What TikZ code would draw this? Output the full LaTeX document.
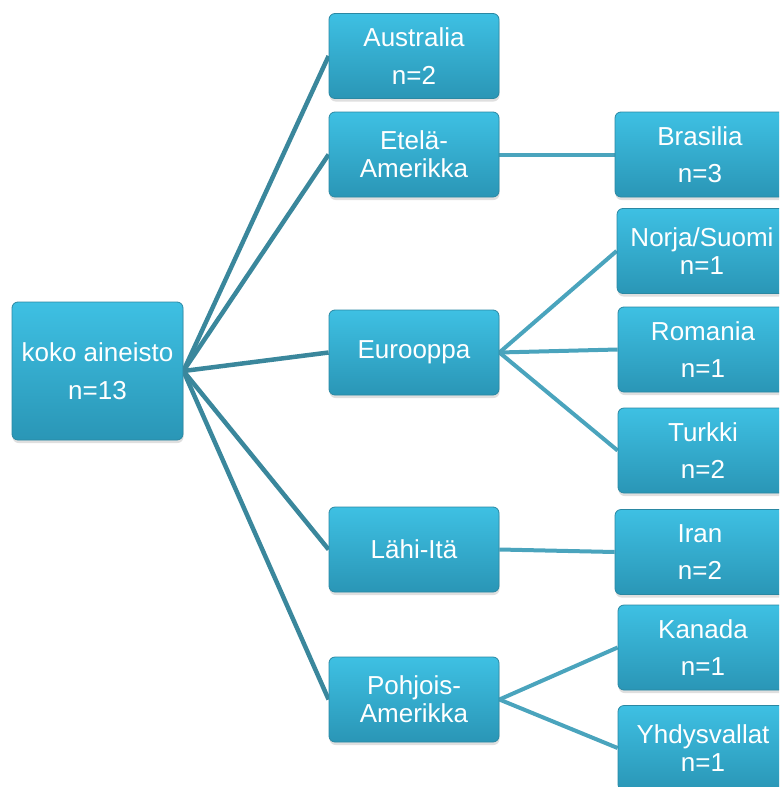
\documentclass[tikz,border=0pt]{standalone}
\usepackage{fontspec}
\setmainfont{Liberation Sans}
\usetikzlibrary{shadows,backgrounds}
\definecolor{boxtop}{HTML}{3EC0E3}
\definecolor{boxbot}{HTML}{2A96B6}
\definecolor{boxedge}{HTML}{2A88A3}
\definecolor{lineA}{HTML}{3A879C}
\definecolor{lineB}{HTML}{4AA4BD}
\begin{document}
\begin{tikzpicture}[x=1pt,y=-1pt,
  box/.style={rectangle, rounded corners=6pt, draw=boxedge, line width=0.8pt,
    top color=boxtop, bottom color=boxbot, text=white, align=center,
    minimum width=170pt, minimum height=85pt, inner sep=0pt,
    drop shadow={opacity=0.25, shadow xshift=0.5pt, shadow yshift=-3pt}},
  tight/.style={font=\fontsize{26}{28}\selectfont},
  loose/.style={font=\fontsize{26}{37.5}\selectfont},
  linkA/.style={draw=lineA, line width=4.5pt},
  linkB/.style={draw=lineB, line width=4pt}]
\useasboundingbox (0,0) rectangle (779,787);
\clip (0,0) rectangle (779,787);
\node[box,loose,minimum width=171pt,minimum height=138pt] (koko) at (97.5,371) {koko aineisto\\n=13};
\node[box,loose] (aus) at (414,56) {Australia\\n=2};
\node[box,tight] (ete) at (414,154.5) {Etelä-\\Amerikka};
\node[box,tight] (eur) at (414,352.5) {Eurooppa};
\node[box,tight] (lah) at (414,549.5) {Lähi-Itä};
\node[box,tight] (poh) at (414,699.5) {Pohjois-\\Amerikka};
\node[box,loose] (bra) at (700,154.5) {Brasilia\\n=3};
\node[box,tight] (nor) at (702,251) {Norja/Suomi\\n=1};
\node[box,loose] (rom) at (703,349.5) {Romania\\n=1};
\node[box,loose] (tur) at (703,450.5) {Turkki\\n=2};
\node[box,loose] (ira) at (700,552) {Iran\\n=2};
\node[box,loose] (kan) at (703,647.5) {Kanada\\n=1};
\node[box,tight] (yhd) at (703,748) {Yhdysvallat\\n=1};
\begin{pgfonlayer}{background}
\foreach \t in {aus,ete,eur,lah,poh} \draw[linkA] (koko.east) -- (\t.west);
\draw[linkB] (ete.east) -- (bra.west);
\foreach \t in {nor,rom,tur} \draw[linkB] (eur.east) -- (\t.west);
\draw[linkB] (lah.east) -- (ira.west);
\foreach \t in {kan,yhd} \draw[linkB] (poh.east) -- (\t.west);
\end{pgfonlayer}
\end{tikzpicture}
\end{document}
